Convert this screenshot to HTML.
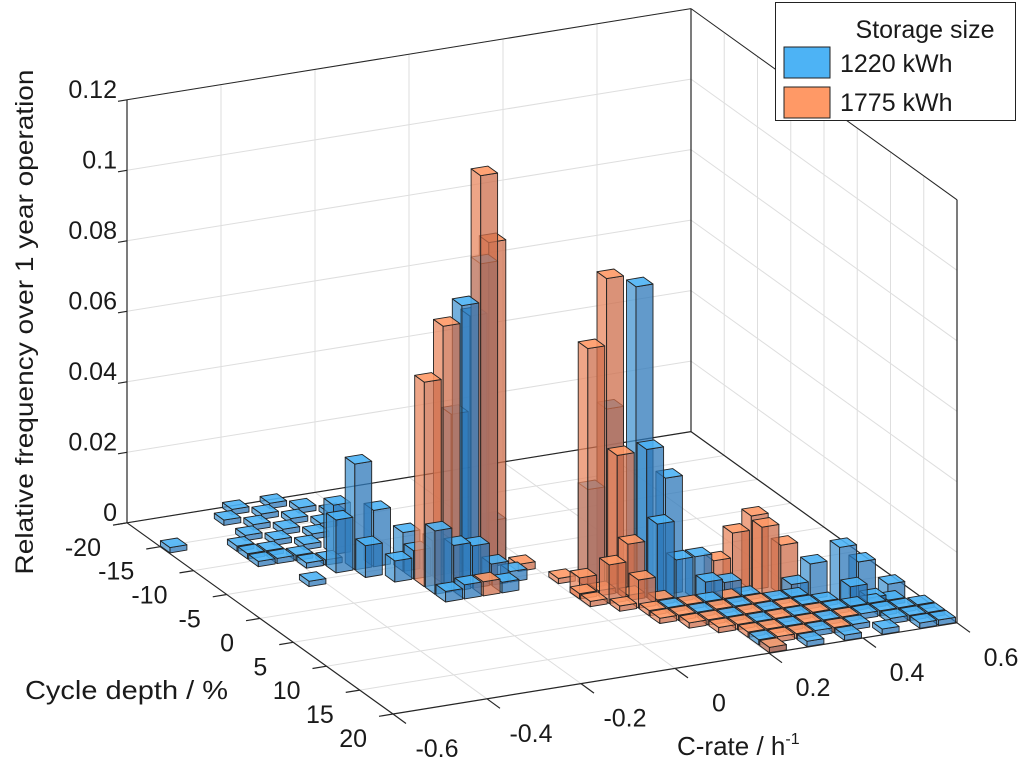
<!DOCTYPE html>
<html><head><meta charset="utf-8"><style>
html,body{margin:0;padding:0;background:#fff;}
svg{display:block;font-family:"Liberation Sans",Arial,sans-serif;}
</style></head><body>
<svg id="chart" width="1024" height="767" viewBox="0 0 1024 767" xmlns="http://www.w3.org/2000/svg">
<g id="grid"></g>
<g id="bars"></g>
<g id="axes"></g>
<text transform="translate(33,322) rotate(-90)" text-anchor="middle" font-size="25" fill="#1a1a1a" textLength="505" lengthAdjust="spacingAndGlyphs">Relative frequency over 1 year operation</text>
<text x="25" y="699" font-size="26" fill="#1a1a1a" textLength="203" lengthAdjust="spacingAndGlyphs">Cycle depth / %</text>
<text x="677" y="755" font-size="26" fill="#1a1a1a">C-rate / h<tspan font-size="16" dy="-11">-1</tspan></text>
<g>
<rect x="775.5" y="2.5" width="240" height="118" fill="#fff" stroke="#222" stroke-width="1"/>
<text x="925" y="38" text-anchor="middle" font-size="25" fill="#1a1a1a">Storage size</text>
<g>
<rect x="784" y="47" width="46" height="31" fill="#4db3f5" stroke="#222" stroke-width="1"/>
<text x="840" y="72" font-size="25" fill="#1a1a1a">1220 kWh</text>
</g>
<g>
<rect x="784" y="87" width="46" height="31" fill="#ff9966" stroke="#222" stroke-width="1"/>
<text x="840" y="111" font-size="25" fill="#1a1a1a">1775 kWh</text>
</g>
</g>
</svg>
<script>
// axis tick values
const cTicks = [-0.6, -0.4, -0.2, 0, 0.2, 0.4, 0.6];
const cTickLabels = ["-0.6", "-0.4", "-0.2", "0", "0.2", "0.4", "0.6"];
const dTicks = [-20, -15, -10, -5, 0, 5, 10, 15, 20];
const dTickLabels = ["-20", "-15", "-10", "-5", "0", "5", "10", "15", "20"];
const zTicks = [0, 0.02, 0.04, 0.06, 0.08, 0.1, 0.12];
const zTickLabels = ["0", "0.02", "0.04", "0.06", "0.08", "0.1", "0.12"];
// bin definitions
const cBinStart = -0.6, cBinWidth = 0.04;
const dBinStart = -20, dBinWidth = 1.6;
// Series 1220 kWh (blue): C-rate bin, depth bin, relative frequency
const blueC = [12,11,13,12,11,10,9,10,11,12,13,7,7,6,8,7,9,9,8,9,10,12,
  3,3,4,4,4,5,5,5,6,6,6,7,7,7,8,8,5,4,9,3,6,5,0,4,
  18,17,18,19,18,19,20,20,21,16,
  26,25,27,26,28,24,27,
  18,19,20,20,20,20,21,21,22,22,22,22,23,23,23,24,24,24,24,25,25,25,26,26,26,27,27,27,28,28,28,28,29,29,29];
const blueD = [11,11,10,10,10,10,9,12,12,12,12,8,6,8,8,9,12,10,10,13,13,13,
  4,5,3,5,6,2,4,6,1,3,5,0,2,4,1,3,0,1,2,6,7,7,3,9,
  15,14,16,16,17,17,17,18,18,14,
  20,19,20,21,21,19,21,
  18,19,18,20,23,24,19,21,18,20,22,24,19,21,23,19,20,22,24,20,21,23,21,22,24,21,22,23,21,22,23,24,22,23,24];
const blueV = [0.089,0.078,0.013,0.072,0.045,0.010,0.011,0.013,0.012,0.006,0.003,0.030,0.014,0.015,0.016,0.009,0.018,0.008,0.006,0.003,0.004,0.003,
  0.0015,0.0015,0.0015,0.0015,0.0015,0.0015,0.0015,0.0015,0.0015,0.0015,0.0015,0.0015,0.0015,0.0015,0.0015,0.0015,0.0015,0.0015,0.0015,0.0015,0.0015,0.0015,0.0015,0.0015,
  0.086,0.050,0.042,0.033,0.023,0.012,0.012,0.007,0.006,0.028,
  0.016,0.010,0.011,0.007,0.006,0.005,0.003,
  0.0015,0.0015,0.0015,0.0015,0.0015,0.0015,0.0015,0.0015,0.0015,0.0015,0.0015,0.0015,0.0015,0.0015,0.0015,0.0015,0.0015,0.0015,0.0015,0.0015,0.0015,0.0015,0.0015,0.0015,0.0015,0.0015,0.0015,0.0015,0.0015,0.0015,0.0015,0.0015,0.0015,0.0015,0.0015];
// Series 1775 kWh (orange)
const orangeC = [12,13,10,9,14,11,
  17,16,17,15,16,17,17,22,23,23,24,21,
  15,15,15,16,16,17,17,17,18,18,18,19,19,19,20,20,20,20,21,21,21,21,22,22,22,23,23,24,24,25];
const orangeD = [11,10,11,11,11,13,
  14,14,15,15,16,16,17,17,17,18,18,17,
  13,15,16,15,17,16,18,19,17,19,20,18,20,21,19,21,22,24,18,20,22,23,19,21,23,20,22,21,23,22];
const orangeV = [0.114,0.092,0.073,0.058,0.002,0.004,
  0.087,0.068,0.039,0.006,0.011,0.016,0.008,0.017,0.021,0.020,0.014,0.010,
  0.0015,0.0015,0.0015,0.0015,0.0015,0.0015,0.0015,0.0015,0.0015,0.0015,0.0015,0.0015,0.0015,0.0015,0.0015,0.0015,0.0015,0.0015,0.0015,0.0015,0.0015,0.0015,0.0015,0.0015,0.0015,0.0015,0.0015,0.0015,0.0015,0.0015];

const NS = "http://www.w3.org/2000/svg";
const cMin = -0.6, cMax = 0.6, dMin = -20, dMax = 20, zMax = 0.12;
function px(c, d, z) { return 393 + (c - cMin) * 470 + (d - dMax) * 6.65; }
function py(c, d, z) { return 714 - (c - cMin) * 76 + (d - dMax) * 4.78 - z * 3525; }
function pt(c, d, z) { return px(c, d, z).toFixed(1) + "," + py(c, d, z).toFixed(1); }
function mk(tag, parent, attrs) {
  const el = document.createElementNS(NS, tag);
  for (const k in attrs) el.setAttribute(k, attrs[k]);
  parent.appendChild(el);
  return el;
}
function line(parent, a, b, stroke, w, name) {
  const el = mk("line", parent, {x1: a[0], y1: a[1], x2: b[0], y2: b[1], stroke: stroke, "stroke-width": w});
  
  
  return el;
}
const P = (c, d, z) => [px(c, d, z), py(c, d, z)];
const grid = document.getElementById("grid");
const axes = document.getElementById("axes");
const gcol = "#dedede";
cTicks.forEach(c => line(grid, P(c, dMin, 0), P(c, dMax, 0), gcol, 1, "floor-grid-c"));
dTicks.forEach(d => line(grid, P(cMin, d, 0), P(cMax, d, 0), gcol, 1, "floor-grid-d"));
cTicks.forEach(c => line(grid, P(c, dMin, 0), P(c, dMin, zMax), gcol, 1, "back-wall-grid-c"));
zTicks.forEach(z => line(grid, P(cMin, dMin, z), P(cMax, dMin, z), gcol, 1, "back-wall-grid-z"));
dTicks.forEach(d => line(grid, P(cMax, d, 0), P(cMax, d, zMax), gcol, 1, "right-wall-grid-d"));
zTicks.forEach(z => line(grid, P(cMax, dMin, z), P(cMax, dMax, z), gcol, 1, "right-wall-grid-z"));
const ec = "#262626";
line(grid, P(cMin, dMin, 0), P(cMax, dMin, 0), ec, 1.2, "back-floor-edge");
line(grid, P(cMax, dMin, 0), P(cMax, dMax, 0), ec, 1.2, "right-floor-edge");
line(grid, P(cMax, dMin, 0), P(cMax, dMin, zMax), ec, 1.2, "back-corner-edge");
line(grid, P(cMax, dMax, 0), P(cMax, dMax, zMax), ec, 1.2, "right-vertical-edge");
line(grid, P(cMin, dMin, zMax), P(cMax, dMin, zMax), ec, 1, "back-top-edge");
line(grid, P(cMax, dMin, zMax), P(cMax, dMax, zMax), ec, 1, "right-top-edge");

const bars = document.getElementById("bars");
const hc = cBinWidth * 0.45, hd = dBinWidth * 0.45;
const all = [];
blueC.forEach((ci, i) => all.push({ci: ci, di: blueD[i], v: blueV[i], s: 0}));
orangeC.forEach((ci, i) => all.push({ci: ci, di: orangeD[i], v: orangeV[i], s: 1}));
all.forEach(b => {
  b.c = cBinStart + cBinWidth * (b.ci + 0.5);
  b.d = dBinStart + dBinWidth * (b.di + 0.5);
  b.key = py(b.c, b.d, 0) + b.s * 0.01;
});
all.sort((a, b) => a.key - b.key);
const colors = [
  {top: "rgba(77,179,245,0.9)", left: "rgba(70,150,210,0.75)", front: "rgba(45,120,185,0.75)"},
  {top: "rgba(255,153,102,0.9)", left: "rgba(232,135,95,0.75)", front: "rgba(205,110,75,0.75)"}
];
all.forEach(b => {
  const c0 = b.c - hc, c1 = b.c + hc, d0 = b.d - hd, d1 = b.d + hd, z = b.v;
  const col = colors[b.s];
  const g = mk("g", bars, {});
  
  
  const st = {stroke: "#222", "stroke-width": 0.9, "stroke-linejoin": "round"};
  mk("polygon", g, Object.assign({points: [pt(c0, d0, 0), pt(c0, d1, 0), pt(c0, d1, z), pt(c0, d0, z)].join(" "), fill: col.left}, st));
  mk("polygon", g, Object.assign({points: [pt(c0, d1, 0), pt(c1, d1, 0), pt(c1, d1, z), pt(c0, d1, z)].join(" "), fill: col.front}, st));
  mk("polygon", g, Object.assign({points: [pt(c0, d0, z), pt(c1, d0, z), pt(c1, d1, z), pt(c0, d1, z)].join(" "), fill: col.top}, st));
});

line(axes, P(cMin, dMin, 0), P(cMin, dMin, zMax), ec, 1.2, "z-axis-line");
line(axes, P(cMin, dMin, 0), P(cMin, dMax, 0), ec, 1.2, "cycle-depth-axis-line");
line(axes, P(cMin, dMax, 0), P(cMax, dMax, 0), ec, 1.2, "c-rate-axis-line");
zTicks.forEach((z, i) => {
  const x = px(cMin, dMin, z), y = py(cMin, dMin, z);
  line(axes, [x - 9, y + 1.5], [x, y], ec, 1.2, "z-tick");
  const t = mk("text", axes, {x: 117, y: y - 2, "text-anchor": "end", "font-size": 25, fill: "#1a1a1a"});
  
  
  t.textContent = zTickLabels[i];
});
dTicks.forEach((d, i) => {
  const x = px(cMin, d, 0), y = py(cMin, d, 0);
  line(axes, [x - 14, y + 2.3], [x, y], ec, 1.2, "cycle-depth-tick");
  const t = mk("text", axes, {x: x - 26, y: y + 33, "text-anchor": "end", "font-size": 25, fill: "#1a1a1a"});
  
  
  t.textContent = dTickLabels[i];
});
cTicks.forEach((c, i) => {
  const x = px(c, dMax, 0), y = py(c, dMax, 0);
  line(axes, [x, y], [x + 13, y + 9.5], ec, 1.2, "c-rate-tick");
  const t = mk("text", axes, {x: x + 44, y: y + 43, "text-anchor": "middle", "font-size": 25, fill: "#1a1a1a"});
  
  
  t.textContent = cTickLabels[i];
});
</script>
</body></html>
